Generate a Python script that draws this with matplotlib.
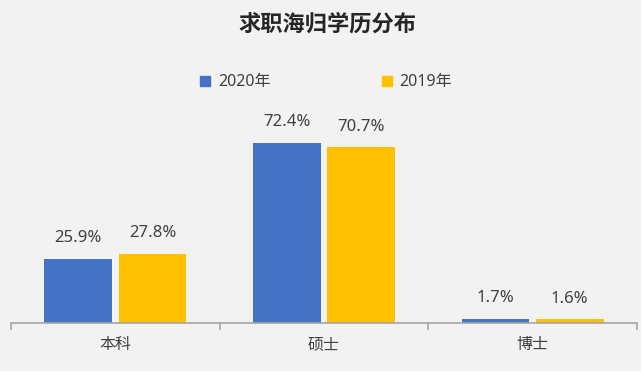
import numpy as np
import matplotlib.pyplot as plt
from matplotlib.patches import Patch

plt.rcParams['font.family'] = ['Noto Sans', 'Noto Sans CJK SC', 'DejaVu Sans']

categories = ['本科', '硕士', '博士']
years = ['2020年', '2019年']
vals_2020 = [25.9, 72.4, 1.7]
vals_2019 = [27.8, 70.7, 1.6]


def main():
    bg = '#F2F2F2'
    c20 = '#4472C4'
    c19 = '#FFC000'
    txt = '#404040'

    fig = plt.figure(figsize=(6.41, 3.71), dpi=100, facecolor=bg)
    ax = fig.add_axes([0.0172, 0.1294, 0.9766, 0.6011])
    ax.set_facecolor(bg)

    pos = np.arange(len(categories))
    w = 0.325
    off = 0.178
    b1 = ax.bar(pos - off, vals_2020, w, color=c20)
    b2 = ax.bar(pos + off, vals_2019, w, color=c19)

    for bars, vals in ((b1, vals_2020), (b2, vals_2019)):
        for b, v in zip(bars, vals):
            ax.annotate('%.1f%%' % v, (b.get_x() + b.get_width() / 2, v),
                        xytext=(0, 9), textcoords='offset points',
                        ha='center', va='bottom', fontsize=12, color=txt)

    ax.set_xlim(-0.5, 2.5)
    ax.set_ylim(0, 89.7)
    ax.set_xticks(pos)
    ax.set_xticklabels(categories, fontsize=11.5, color=txt)
    ax.tick_params(axis='x', which='major', length=0, pad=10)
    ax.set_xticks(np.arange(-0.5, 3, 1), minor=True)
    ax.tick_params(axis='x', which='minor', length=5, color='#A6A6A6', width=1.2)
    ax.set_yticks([])
    for s in ['top', 'right', 'left']:
        ax.spines[s].set_visible(False)
    ax.spines['bottom'].set_color('#A6A6A6')
    ax.spines['bottom'].set_linewidth(1.2)

    fig.text(0.51, 0.932, '求职海归学历分布', ha='center', va='center',
             fontsize=16, fontweight='bold', color='#262626')

    handles = [Patch(color=c20), Patch(color=c19)]
    fig.legend(handles, years, loc='center', bbox_to_anchor=(0.509, 0.778),
               ncol=2, frameon=False, fontsize=11.5, handlelength=0.6,
               handleheight=0.6, handletextpad=0.5, columnspacing=7,
               labelcolor=txt)

    plt.savefig('out.png', dpi=100, facecolor=bg)


if __name__ == '__main__':
    main()
